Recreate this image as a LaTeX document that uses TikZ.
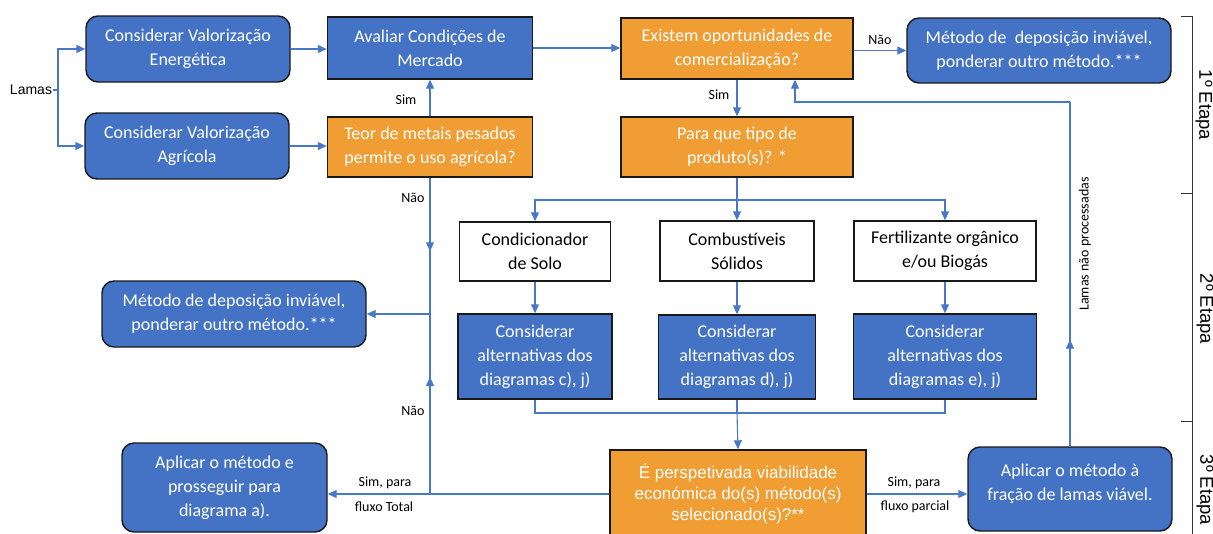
\documentclass[tikz,border=0pt]{standalone}
\usepackage{fontspec}
\setmainfont{Carlito}
\newfontfamily\arialf{Liberation Sans}
\usetikzlibrary{arrows.meta,decorations.markings}

\definecolor{boxblue}{HTML}{4472C4}
\definecolor{boxorange}{HTML}{F09D33}
\definecolor{lineblue}{HTML}{4A78C8}

\tikzset{
  sz/.style 2 args={minimum width=#1pt, minimum height=#2pt},
  basebox/.style={draw=black!90, line width=1.4pt, align=center, inner sep=2pt,
                  font=\fontsize{18}{24}\selectfont},
  bluebox/.style={basebox, fill=boxblue, text=white},
  roundbox/.style={bluebox, rounded corners=12pt},
  orangebox/.style={basebox, fill=boxorange, text=white},
  plainbox/.style={basebox, fill=white, text=black},
  flow/.style={lineblue, line width=1.1pt},
  tipped/.style={flow, -{Triangle[length=9pt,width=8pt]}},
  midtip/.style={flow, postaction={decorate},
     decoration={markings, mark=at position #1 with {\arrow{Triangle[length=9pt,width=8pt]}}}},
  lbl/.style={font=\fontsize{14}{16}\selectfont, text=black, inner sep=1pt},
  stage/.style={font=\arialf\fontsize{18.5}{20}\selectfont, text=black, rotate=-90},
  bracket/.style={draw=black!80, line width=1pt}
}

\begin{document}
\begin{tikzpicture}[x=1pt,y=-1pt]
\useasboundingbox (0,0) rectangle (1213,533);
\clip (0,0) rectangle (1213,533);

% --- stage 1 ---
\node[font=\arialf\fontsize{14}{16}\selectfont, inner sep=1pt] (lamas) at (31,90) {Lamas};
\node[roundbox, sz={204}{66}] (cve) at (188,49) {Considerar Valorização\\Energética};
\node[roundbox, sz={204}{66}] (cva) at (187,146) {Considerar Valorização\\Agrícola};
\node[bluebox, sz={205}{62}] (acm) at (430,48) {Avaliar Condições de\\Mercado};
\node[orangebox, sz={205}{60}] (teor) at (430,147) {Teor de metais pesados\\permite o uso agrícola?};
\node[orangebox, sz={232}{61}] (exi) at (737,48.5) {Existem oportunidades de\\comercialização?};
\node[roundbox, sz={264}{65}] (mtr) at (1039,50.5) {Método de~ deposição inviável,\\ponderar outro método.***};
\node[orangebox, sz={232}{60}] (para) at (737,147) {Para que tipo de\\produto(s)? *};

% --- stage 2 ---
\node[plainbox, sz={151}{59}] (cond) at (535,251.5) {Condicionador\\de Solo};
\node[plainbox, sz={154}{60}] (comb) at (737,251) {Combustíveis\\Sólidos};
\node[plainbox, sz={182}{60}] (fert) at (945,251) {Fertilizante orgânico\\e/ou Biogás};
\node[bluebox, sz={154}{85}] (alc) at (535,356.5) {Considerar\\alternativas dos\\diagramas c), j)};
\node[bluebox, sz={157}{84}] (ald) at (737,357) {Considerar\\alternativas dos\\diagramas d), j)};
\node[bluebox, sz={183}{85}] (ale) at (945,356.5) {Considerar\\alternativas dos\\diagramas e), j)};
\node[roundbox, sz={264}{66}] (mleft) at (234,314) {Método de deposição inviável,\\ponderar outro método.***};

% --- stage 3 ---
\node[roundbox, sz={205}{89}] (ape) at (224.5,487.5) {Aplicar o método e\\prosseguir para\\diagrama a).};
\node[orangebox, sz={256}{88}, font=\arialf\fontsize{17}{21}\selectfont] (epv) at (738,494)
  {É perspetivada viabilidade\\económica do(s) método(s)\\selecionado(s)?**};
\node[roundbox, sz={204}{84}] (apa) at (1070,489) {Aplicar o método à\\fração de lamas viável.\\[-10pt]\mbox{}};

% --- connectors, stage 1 ---
\coordinate (split) at (58,90);
\draw[flow] (lamas.east) -- (split);
\draw[tipped] (split) |- (cve.west);
\draw[tipped] (split) |- (cva.west);
\draw[tipped] (cve.east) -- (cve.east -| acm.west);
\draw[tipped] (cva.east) -- (cva.east -| teor.west);
\draw[tipped] (teor.north) -- (acm.south);
\node[lbl] at (406,100) {Sim};
\draw[tipped] (acm.east) -- (acm.east -| exi.west);
\draw[tipped] (mtr.west -| exi.east) -- (mtr.west);
\node[lbl] at (880,40) {Não};
\draw[tipped] (exi.south) -- (para.north);
\node[lbl] at (719,95) {Sim};

% --- connectors, stage 2 ---
\coordinate (fork) at (737,200);
\draw[flow] (para.south) -- (fork);
\draw[tipped] (fork) -| (cond.north);
\draw[tipped] (fork) -| (fert.north);
\draw[tipped] (fork) -- (comb.north);
\draw[tipped] (cond) -- (alc);
\draw[tipped] (comb) -- (ald);
\draw[tipped] (fert) -- (ale);
\coordinate (join) at (737,413);
\draw[flow] (alc.south) |- (join) -| (ale.south);
\draw[flow] (ald.south) -- (join);
\draw[tipped] (join) -- (epv.north);

% --- rejection branch on the left ---
\coordinate (jmid) at (430,314);
\coordinate (jlow) at (430,494);
\draw[midtip=0.54] (teor.south) -- (jmid);
\draw[midtip=0.65] (jlow) -- (jmid);
\draw[tipped] (jmid) -- (mleft.east);
\node[lbl] at (413,198) {Não};
\node[lbl] at (413,411) {Não};

% --- stage 3 outcomes ---
\draw[tipped] (epv.west) -- (epv.west -| ape.east);
\node[lbl] at (385,483) {Sim, para};
\node[lbl] at (384,507) {fluxo Total};
\draw[tipped] (epv.east) -- (epv.east -| apa.west);
\node[lbl] at (914,483) {Sim, para};
\node[lbl] at (915,507) {fluxo parcial};

% --- return loop for the unprocessed fraction ---
\coordinate (back) at (795,102);
\draw[midtip=0.31] (apa.north) -- (apa.north |- back);
\draw[tipped] (apa.north |- back) -- (back) -- (back |- exi.south);
\node[lbl, rotate=90] at (1085,244) {Lamas não processadas};

% --- stage bracket ---
\draw[bracket] (1181,16) -- (1192,16) -- (1192,540);
\draw[bracket] (1181,193) -- (1192,193);
\draw[bracket] (1181,421) -- (1192,421);
\node[stage] at (1204,105) {1º Etapa};
\node[stage] at (1205,309) {2º Etapa};
\node[stage] at (1205,490) {3º Etapa};
\end{tikzpicture}
\end{document}
